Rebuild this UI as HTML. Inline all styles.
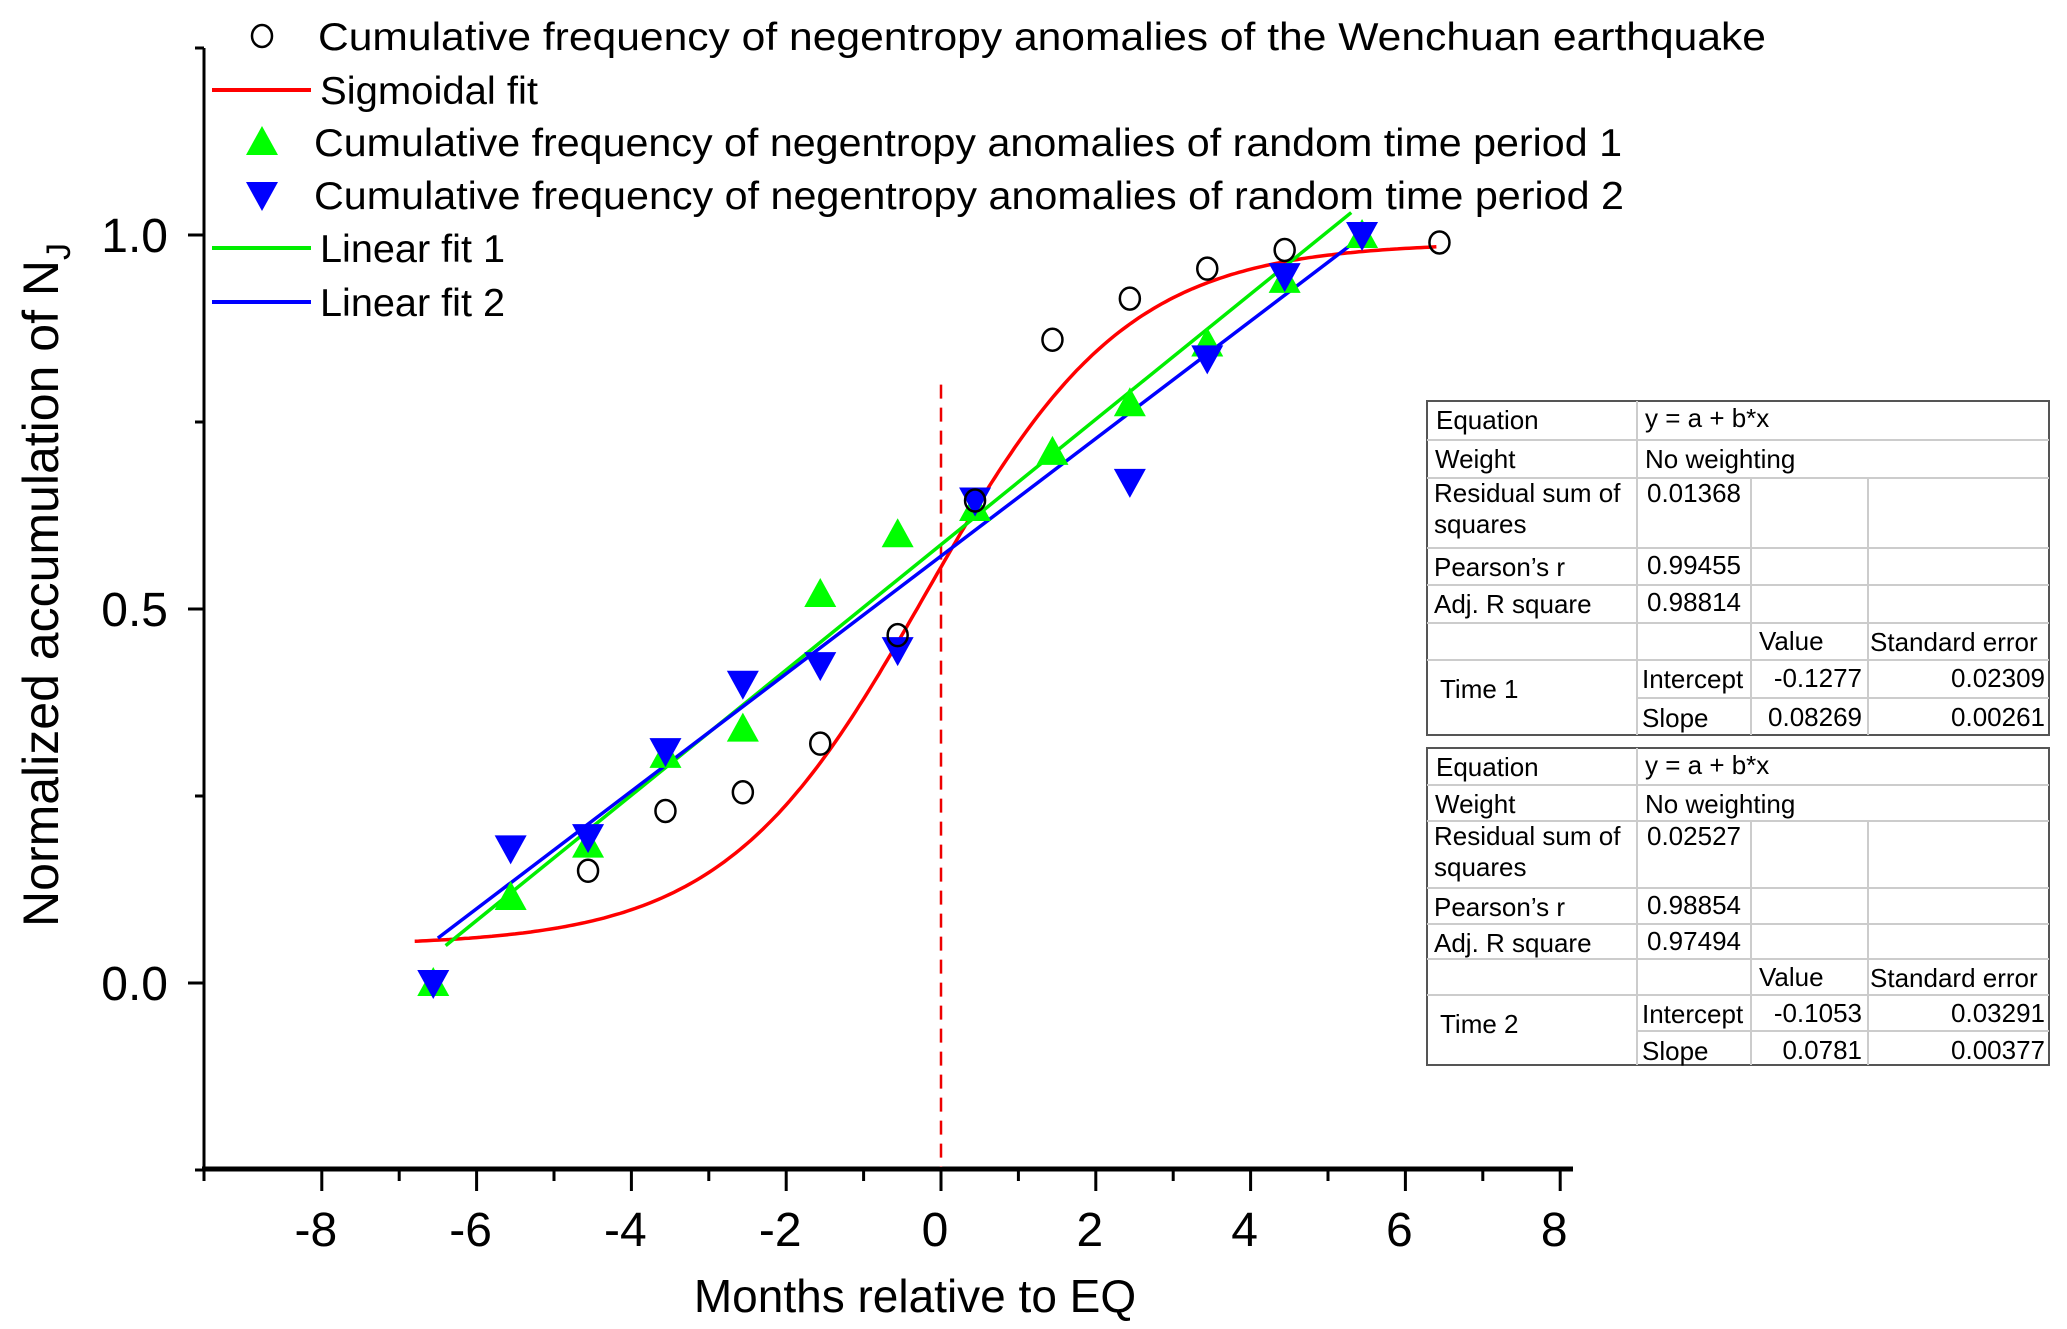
<!DOCTYPE html>
<html><head><meta charset="utf-8"><style>
html,body{margin:0;padding:0;background:#fff}
svg{display:block}
text{font-family:"Liberation Sans",sans-serif;fill:#000}
</style></head><body>
<svg id="s" width="2067" height="1329" xmlns="http://www.w3.org/2000/svg">
<g id="g"></g>
</svg>
<script>
const NS="http://www.w3.org/2000/svg";
const g=document.getElementById('g');
function X(u){return 941+77.4*u}
function Y(v){return 983-748*v}
let h='';
h+=`<line x1="204" y1="48" x2="204" y2="1171" stroke="#000" stroke-width="3"/>`;
h+=`<line x1="202" y1="1169" x2="1573" y2="1169" stroke="#000" stroke-width="5"/>`;
[0,0.5,1].forEach(v=>{h+=`<line x1="188" y1="${Y(v)}" x2="204" y2="${Y(v)}" stroke="#000" stroke-width="3"/>`;
h+=`<text x="168" y="${Y(v)+17}" font-size="48" text-anchor="end">${v.toFixed(1)}</text>`;});
[-0.25,0.25,0.75,1.25].forEach(v=>{h+=`<line x1="195" y1="${Y(v)}" x2="204" y2="${Y(v)}" stroke="#000" stroke-width="3"/>`;});
for(let u=-8;u<=8;u++){const L=(u%2==0)?22:12;h+=`<line x1="${X(u)}" y1="1169" x2="${X(u)}" y2="${1169+L}" stroke="#000" stroke-width="3"/>`;
if(u%2==0)h+=`<text x="${X(u)-6}" y="1246" font-size="48" text-anchor="middle">${u}</text>`;}
h+=`<line x1="204" y1="1169" x2="204" y2="1181" stroke="#000" stroke-width="3"/>`;
h+=`<text x="915" y="1312" font-size="46" text-anchor="middle">Months relative to EQ</text>`;
h+=`<text transform="translate(58,585) rotate(-90)" font-size="50" text-anchor="middle">Normalized accumulation of N<tspan font-size="34" dy="12">J</tspan></text>`;
h+=`<line x1="${X(0)}" y1="${Y(0.8)}" x2="${X(0)}" y2="1167" stroke="#e00" stroke-width="2.5" stroke-dasharray="14,9"/>`;
let p='';for(let x=-6.8;x<=6.41;x+=0.05){const y=0.99-0.94/(1+Math.exp((x+0.2)/1.3));p+=(p?'L':'M')+X(x).toFixed(1)+','+Y(y).toFixed(1);}
h+=`<path d="${p}" fill="none" stroke="#f00" stroke-width="3.5"/>`;
h+=`<line x1="${X(-6.4)}" y1="${Y(0.05)}" x2="${X(5.3)}" y2="${Y(1.03)}" stroke="#0e0" stroke-width="3.5"/>`;
h+=`<line x1="${X(-6.5)}" y1="${Y(0.06)}" x2="${X(5.4)}" y2="${Y(0.995)}" stroke="#00f" stroke-width="3.5"/>`;
function up(x,y,c){return `<polygon points="${x},${y-16} ${x-16},${y+13} ${x+16},${y+13}" fill="${c}"/>`}
function dn(x,y,c){return `<polygon points="${x},${y+16} ${x-16},${y-13} ${x+16},${y-13}" fill="${c}"/>`}
const o=-0.06;
[[-6.5,0],[-5.5,0.115],[-4.5,0.185],[-3.5,0.305],[-2.5,0.34],[-1.5,0.52],[-0.5,0.6],[0.5,0.635],[1.5,0.71],[2.5,0.775],[3.5,0.855],[4.5,0.94],[5.5,1.0]].forEach(d=>h+=up(X(d[0]+o),Y(d[1]),'#0f0'));
[[-6.5,0],[-5.5,0.18],[-4.5,0.195],[-3.5,0.31],[-2.5,0.4],[-1.5,0.425],[-0.5,0.445],[0.5,0.645],[2.5,0.67],[3.5,0.835],[4.5,0.945],[5.5,1.0]].forEach(d=>h+=dn(X(d[0]+o),Y(d[1]),'#00f'));
[[-4.5,0.15],[-3.5,0.23],[-2.5,0.255],[-1.5,0.32],[-0.5,0.465],[0.5,0.645],[1.5,0.86],[2.5,0.915],[3.5,0.955],[4.5,0.98],[6.5,0.99]].forEach(d=>h+=`<ellipse cx="${X(d[0]+o)}" cy="${Y(d[1])}" rx="10" ry="11" fill="none" stroke="#000" stroke-width="2.5"/>`);
const ly=[36,90,142,195,248,302];
h+=`<ellipse cx="262" cy="36" rx="10" ry="11" fill="none" stroke="#000" stroke-width="2.5"/>`;
h+=`<line x1="212" y1="90" x2="311" y2="90" stroke="#f00" stroke-width="4"/>`;
h+=up(262,142,'#0f0');h+=dn(262,195,'#00f');
h+=`<line x1="212" y1="248" x2="311" y2="248" stroke="#0e0" stroke-width="4"/>`;
h+=`<line x1="212" y1="302" x2="311" y2="302" stroke="#00f" stroke-width="4"/>`;
const lt=[["Cumulative frequency of negentropy anomalies of the Wenchuan earthquake",318,1448],["Sigmoidal fit",320,218],["Cumulative frequency of negentropy anomalies of random time period 1",314,1308],["Cumulative frequency of negentropy anomalies of random time period 2",314,1310],["Linear fit 1",320,185],["Linear fit 2",320,185]];
lt.forEach((t,i)=>h+=`<text x="${t[1]}" y="${ly[i]+14}" font-size="39" textLength="${t[2]}" lengthAdjust="spacingAndGlyphs">${t[0]}</text>`);
function table(top,rows,vals){
 let s='';const L=1427,R=2049,c1=1637,c2=1751,c3=1868;
 const b=rows[rows.length-1];
 s+=`<rect x="${L}" y="${top}" width="${R-L}" height="${b-top}" fill="none" stroke="#555" stroke-width="2"/>`;
 for(let i=1;i<rows.length-1;i++){const x1=(i==7)?c1:L;s+=`<line x1="${x1}" y1="${rows[i]}" x2="${R}" y2="${rows[i]}" stroke="#ccc" stroke-width="2"/>`;}
 s+=`<line x1="${c1}" y1="${top}" x2="${c1}" y2="${b}" stroke="#ccc" stroke-width="2"/>`;
 s+=`<line x1="${c2}" y1="${rows[2]}" x2="${c2}" y2="${b}" stroke="#ccc" stroke-width="2"/>`;
 s+=`<line x1="${c3}" y1="${rows[2]}" x2="${c3}" y2="${b}" stroke="#ccc" stroke-width="2"/>`;
 const fs=26,T=(x,y,t,a)=>`<text x="${x}" y="${y}" font-size="${fs}" ${a?'text-anchor="end"':''}>${t}</text>`;
 s+=T(L+9,rows[0]+28,"Equation")+T(c1+8,rows[0]+26,"y = a + b*x");
 s+=T(L+8,rows[1]+28,"Weight")+T(c1+8,rows[1]+28,"No weighting");
 s+=T(L+7,rows[2]+24,"Residual sum of")+T(L+7,rows[2]+55,"squares")+T(c1+10,rows[2]+24,vals[0]);
 s+=T(L+7,rows[3]+28,"Pearson’s r")+T(c1+10,rows[3]+26,vals[1]);
 s+=T(L+7,rows[4]+28,"Adj. R square")+T(c1+10,rows[4]+26,vals[2]);
 s+=T(c2+8,rows[5]+27,"Value")+T(c3+2,rows[5]+28,"Standard error");
 s+=T(L+13,rows[6]+38,vals[7]);
 s+=T(c1+5,rows[6]+28,"Intercept")+T(c3-6,rows[6]+27,vals[3],1)+T(R-4,rows[6]+27,vals[4],1);
 s+=T(c1+5,rows[7]+29,"Slope")+T(c3-6,rows[7]+28,vals[5],1)+T(R-4,rows[7]+28,vals[6],1);
 return s;}
h+=table(401,[401,440,478,548,585,623,660,698,735],["0.01368","0.99455","0.98814","-0.1277","0.02309","0.08269","0.00261","Time 1"]);
h+=table(748,[748,785,821,888,924,959,995,1031,1065],["0.02527","0.98854","0.97494","-0.1053","0.03291","0.0781","0.00377","Time 2"]);
g.innerHTML=h;
</script>
</body></html>
